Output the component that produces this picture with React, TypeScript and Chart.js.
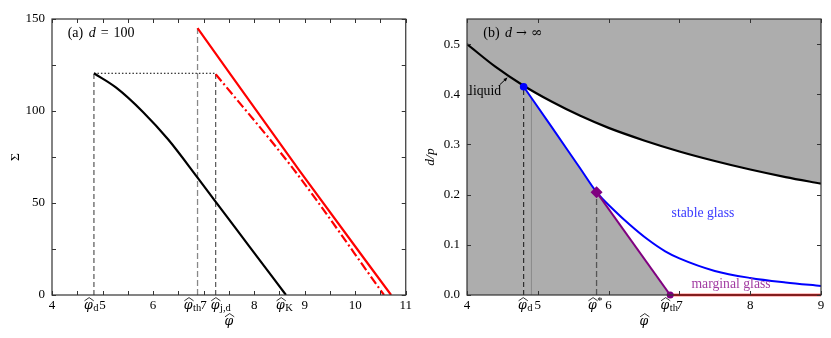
import React, { useEffect, useRef } from 'react';
import { Chart, registerables } from 'chart.js';

Chart.register(...registerables);

const FONT = '"Liberation Serif", "Times New Roman", serif';
const PHI_FONT = '"DejaVu Serif", serif';

// ---------- Panel (a): d = 100 ----------
const aBlackPhi = [4.83, 5.27, 5.8, 6.3, 6.88, 7.24, 7.9, 8.63];
const aBlackSigma = [120.5, 112.7, 99.5, 84.5, 63.8, 50.6, 26.6, 0];
const aRedPhi = [6.88, 8.9, 10.71];
const aRedSigma = [145, 67.5, 0];
const aRedDashPhi = [7.24, 8.79, 10.57];
const aRedDashSigma = [120, 68, 0];
const aPhiD = 4.83;
const aPhiTh = 6.88;
const aPhiJd = 7.24;
const aPhiK = 8.63;
const aSigmaD = 120.5;
const aSigmaTh = 145;
const aXTicks = [4, 5, 6, 7, 8, 9, 10, 11];
const aXMarks = [4, 4.5, 5, 5.5, 6, 6.5, 7, 7.5, 8, 8.5, 9, 9.5, 10, 10.5, 11];
const aYTicks = [0, 50, 100, 150];
const aYMarks = [0, 25, 50, 75, 100, 125, 150];

// ---------- Panel (b): d -> infinity ----------
const bBlackPhi = [4, 4.4, 4.8, 5.2, 5.6, 6, 6.5, 7, 7.5, 8, 8.5, 9];
const bBlackDp = [0.5, 0.455, 0.417, 0.385, 0.357, 0.333, 0.308, 0.286, 0.267, 0.25, 0.235, 0.222];
const bBluePhi = [4.8, 5.2, 5.6, 5.83, 6.07, 6.3, 6.55, 6.8, 7.0, 7.5, 8.0, 8.5, 9.0];
const bBlueDp = [0.415, 0.334, 0.252, 0.205, 0.17, 0.14, 0.111, 0.087, 0.073, 0.048, 0.034, 0.025, 0.018];
const bPhiD = 4.8;
const bDpD = 0.415;
const bPhiThin = 4.91;
const bDpThin = 0.393;
const bPhiStar = 5.83;
const bDpStar = 0.205;
const bPhiTh = 6.87;
const bXMax = 9;
const bXTicks = [4, 5, 6, 7, 8, 9];
const bXMarks = [4, 5, 6, 7, 8, 9];
const bYTicks = [0, 0.1, 0.2, 0.3, 0.4, 0.5];
const bYMarks = [0, 0.1, 0.2, 0.3, 0.4, 0.5];

const GRAY = '#adadad';

const pts = (xs: number[], ys: number[]) => xs.map((x, i) => ({ x, y: ys[i] }));

function drawPhiHat(ctx: CanvasRenderingContext2D, cx: number, baseline: number, sub?: string, sup?: string, size = 12.5) {
  const phiFont = `italic ${size}px ${PHI_FONT}`;
  const subFont = `10.5px ${FONT}`;
  ctx.save();
  ctx.font = phiFont;
  const w = ctx.measureText('φ').width;
  ctx.font = subFont;
  const extra = sub || sup || '';
  const sw = extra ? ctx.measureText(extra).width + 0.5 : 0;
  const x0 = cx - (w + sw) / 2;
  ctx.fillStyle = '#000';
  ctx.strokeStyle = '#000';
  ctx.textAlign = 'left';
  ctx.textBaseline = 'alphabetic';
  ctx.font = phiFont;
  ctx.fillText('φ', x0, baseline);
  const hb = baseline - size * 0.52 - 1.2;
  ctx.lineWidth = 0.8;
  ctx.beginPath();
  ctx.moveTo(x0 + 0.5, hb);
  ctx.lineTo(x0 + w / 2 + 0.8, hb - 3.2);
  ctx.lineTo(x0 + w + 1, hb);
  ctx.stroke();
  ctx.font = subFont;
  if (sub) ctx.fillText(sub, x0 + w + 0.5, baseline + 2);
  if (sup) ctx.fillText(sup, x0 + w + 0.5, baseline - 5);
  ctx.restore();
}

type Seg = { t: string; italic?: boolean; gap?: number; family?: string; size?: number };
function drawRich(ctx: CanvasRenderingContext2D, segs: Seg[], x: number, y: number, color: string, size = 13.7) {
  ctx.save();
  ctx.fillStyle = color;
  ctx.textAlign = 'left';
  ctx.textBaseline = 'alphabetic';
  let cx = x;
  for (const s of segs) {
    cx += s.gap || 0;
    ctx.font = `${s.italic ? 'italic ' : ''}${s.size || size}px ${s.family || FONT}`;
    ctx.fillText(s.t, cx, y);
    cx += ctx.measureText(s.t).width;
  }
  ctx.restore();
}

type Special = { v: number; sub?: string; sup?: string; dx: number };
type Note = { segs: Seg[]; x: number; y: number; color: string; size?: number };

function makeDecor(cfg: {
  bg?: string;
  xMarks: number[];
  yMarks: number[];
  specials: Special[];
  yTitle: { text: string; italic: boolean; x: number };
  notes: Note[];
  arrow?: { x1: number; y1: number; x2: number; y2: number };
}) {
  return {
    id: 'decor',
    beforeDatasetsDraw(chart: any) {
      if (!cfg.bg) return;
      const { ctx, chartArea: a } = chart;
      ctx.save();
      ctx.fillStyle = cfg.bg;
      ctx.fillRect(a.left, a.top, a.right - a.left, a.bottom - a.top);
      ctx.restore();
    },
    afterDraw(chart: any) {
      const { ctx, chartArea: a } = chart;
      const xs = chart.scales.x;
      const ys = chart.scales.y;
      ctx.save();
      ctx.strokeStyle = '#333';
      ctx.lineWidth = 1.2;
      ctx.strokeRect(a.left, a.top, a.right - a.left, a.bottom - a.top);
      ctx.lineWidth = 1;
      ctx.beginPath();
      const L = 4;
      for (const v of cfg.xMarks) {
        const p = Math.round(xs.getPixelForValue(v)) + 0.5;
        ctx.moveTo(p, a.bottom);
        ctx.lineTo(p, a.bottom - L);
        ctx.moveTo(p, a.top);
        ctx.lineTo(p, a.top + L);
      }
      for (const v of cfg.yMarks) {
        const p = Math.round(ys.getPixelForValue(v)) + 0.5;
        ctx.moveTo(a.left, p);
        ctx.lineTo(a.left + L, p);
        ctx.moveTo(a.right, p);
        ctx.lineTo(a.right - L, p);
      }
      ctx.stroke();
      ctx.restore();
      for (const s of cfg.specials) {
        drawPhiHat(ctx, xs.getPixelForValue(s.v) + s.dx, a.bottom + 13.5, s.sub, s.sup);
      }
      drawPhiHat(ctx, (a.left + a.right) / 2, a.bottom + 29.5, undefined, undefined, 12.5);
      ctx.save();
      ctx.translate(cfg.yTitle.x, (a.top + a.bottom) / 2);
      ctx.rotate(-Math.PI / 2);
      ctx.font = `${cfg.yTitle.italic ? 'italic ' : ''}13.5px ${FONT}`;
      ctx.fillStyle = '#000';
      ctx.textAlign = 'center';
      ctx.textBaseline = 'middle';
      ctx.fillText(cfg.yTitle.text, 0, 0);
      ctx.restore();
      for (const n of cfg.notes) {
        drawRich(ctx, n.segs, xs.getPixelForValue(n.x), ys.getPixelForValue(n.y), n.color, n.size);
      }
      if (cfg.arrow) {
        const x1 = xs.getPixelForValue(cfg.arrow.x1);
        const y1 = ys.getPixelForValue(cfg.arrow.y1);
        const x2 = xs.getPixelForValue(cfg.arrow.x2);
        const y2 = ys.getPixelForValue(cfg.arrow.y2);
        const ang = Math.atan2(y2 - y1, x2 - x1);
        ctx.save();
        ctx.strokeStyle = '#000';
        ctx.fillStyle = '#000';
        ctx.lineWidth = 1;
        ctx.beginPath();
        ctx.moveTo(x1, y1);
        ctx.lineTo(x2, y2);
        ctx.stroke();
        ctx.beginPath();
        ctx.moveTo(x2, y2);
        ctx.lineTo(x2 - 4 * Math.cos(ang - 0.45), y2 - 4 * Math.sin(ang - 0.45));
        ctx.lineTo(x2 - 4 * Math.cos(ang + 0.45), y2 - 4 * Math.sin(ang + 0.45));
        ctx.closePath();
        ctx.fill();
        ctx.restore();
      }
    },
  };
}

function baseOptions(o: {
  xMin: number; xMax: number; yMin: number; yMax: number;
  xTicks: number[]; yTicks: number[]; yFmt: (v: number) => string; padRight: number;
}) {
  return {
    animation: false,
    responsive: false,
    maintainAspectRatio: false,
    events: [],
    layout: { padding: { top: 19, right: o.padRight, left: 0, bottom: 0 } },
    elements: { point: { radius: 0, hoverRadius: 0 } },
    plugins: { legend: { display: false }, tooltip: { enabled: false }, filler: { propagate: false } },
    scales: {
      x: {
        type: 'linear',
        min: o.xMin,
        max: o.xMax,
        grid: { display: false, drawTicks: false },
        border: { display: false },
        ticks: {
          autoSkip: false,
          maxRotation: 0,
          padding: 3,
          color: '#000',
          font: { family: FONT, size: 13 },
          callback: (v: number) => String(v),
        },
        afterBuildTicks: (s: any) => { s.ticks = o.xTicks.map((v) => ({ value: v })); },
        afterFit: (s: any) => { s.height = 43; },
      },
      y: {
        type: 'linear',
        min: o.yMin,
        max: o.yMax,
        grid: { display: false, drawTicks: false },
        border: { display: false },
        ticks: {
          autoSkip: false,
          padding: 7,
          color: '#000',
          font: { family: FONT, size: 13 },
          callback: (v: number) => o.yFmt(v),
        },
        afterBuildTicks: (s: any) => { s.ticks = o.yTicks.map((v) => ({ value: v })); },
        afterFit: (s: any) => { s.width = 52; },
      },
    },
  };
}

function line(data: any[], color: string, width: number, extra: any = {}) {
  return { data, borderColor: color, backgroundColor: color, borderWidth: width, pointRadius: 0, fill: false, tension: 0, order: 2, ...extra };
}

const SMOOTH = { cubicInterpolationMode: 'monotone', tension: 0.4 };

export default function App() {
  const leftRef = useRef<HTMLCanvasElement>(null);
  const rightRef = useRef<HTMLCanvasElement>(null);

  useEffect(() => {
    document.body.style.margin = '0';
    const left = new Chart(leftRef.current as HTMLCanvasElement, {
      type: 'line',
      data: {
        datasets: [
          line([{ x: aPhiD, y: 0 }, { x: aPhiD, y: aSigmaD }], '#333', 1, { borderDash: [5, 3], order: 3 }),
          line([{ x: aPhiTh, y: 0 }, { x: aPhiTh, y: aSigmaTh }], '#888', 1.3, { borderDash: [6, 3], order: 3 }),
          line([{ x: aPhiJd, y: 0 }, { x: aPhiJd, y: aSigmaD }], '#333', 1, { borderDash: [5, 3], order: 3 }),
          line([{ x: aPhiD, y: aSigmaD }, { x: aPhiJd, y: aSigmaD }], '#000', 1, { borderDash: [1.5, 2], order: 3 }),
          line(pts(aBlackPhi, aBlackSigma), '#000', 2.2, { ...SMOOTH, order: 1 }),
          line(pts(aRedPhi, aRedSigma), '#ff0000', 2.2, { ...SMOOTH, order: 1 }),
          line(pts(aRedDashPhi, aRedDashSigma), '#ff0000', 2.2, { ...SMOOTH, borderDash: [9, 3, 2, 3], order: 1 }),
        ],
      },
      options: baseOptions({
        xMin: 4, xMax: 11, yMin: 0, yMax: 150, xTicks: aXTicks, yTicks: aYTicks,
        yFmt: (v) => String(v), padRight: 8,
      }) as any,
      plugins: [
        makeDecor({
          xMarks: aXMarks,
          yMarks: aYMarks,
          specials: [
            { v: aPhiD, sub: 'd', dx: -2.7 },
            { v: aPhiTh, sub: 'th', dx: -5 },
            { v: aPhiJd, sub: 'j,d', dx: 5 },
            { v: aPhiK, sub: 'K', dx: -1.5 },
          ],
          yTitle: { text: 'Σ', italic: false, x: 15.5 },
          notes: [
            { segs: [{ t: '(a)' }, { t: 'd', italic: true, gap: 5.5 }, { t: '=', gap: 5 }, { t: '100', gap: 5 }], x: 4.31, y: 140, color: '#000', size: 14 },
          ],
        }) as any,
      ],
    });

    const whiteRegion = pts(bBlackPhi, bBlackDp).filter((p) => p.x >= bPhiD);
    const grayRegion = [...pts(bBluePhi, bBlueDp).filter((p) => p.x <= bPhiStar), { x: bPhiTh, y: 0 }];

    const right = new Chart(rightRef.current as HTMLCanvasElement, {
      type: 'line',
      data: {
        datasets: [
          { data: whiteRegion, borderWidth: 0, borderColor: 'rgba(0,0,0,0)', backgroundColor: '#ffffff', fill: 'origin', pointRadius: 0, ...SMOOTH, order: 20 },
          { data: grayRegion, borderWidth: 0, borderColor: 'rgba(0,0,0,0)', backgroundColor: GRAY, fill: 'origin', pointRadius: 0, tension: 0, order: 19 },
          line([{ x: bPhiD, y: 0 }, { x: bPhiD, y: bDpD }], '#222', 1.1, { borderDash: [5, 3], order: 3 }),
          line([{ x: bPhiThin, y: 0 }, { x: bPhiThin, y: bDpThin }], '#8a8a8a', 1, { order: 3 }),
          line([{ x: bPhiStar, y: 0 }, { x: bPhiStar, y: bDpStar }], '#555', 1.3, { borderDash: [6, 3], order: 3 }),
          line(pts(bBlackPhi, bBlackDp), '#000', 2.2, { ...SMOOTH, order: 2 }),
          line(pts(bBluePhi, bBlueDp), '#0000ff', 2, { ...SMOOTH, order: 2 }),
          line([{ x: bPhiStar, y: bDpStar }, { x: bPhiTh, y: 0 }], '#800080', 2, { order: 1 }),
          line([{ x: bPhiTh, y: 0 }, { x: bXMax, y: 0 }], '#ff0000', 2.6, { order: 1, clip: false }),
          { data: [{ x: bPhiD, y: bDpD }], showLine: false, pointRadius: 3.8, pointStyle: 'circle', backgroundColor: '#0000ff', borderColor: '#0000ff', borderWidth: 0, order: 0, clip: false },
          { data: [{ x: bPhiStar, y: bDpStar }], showLine: false, pointRadius: 6, pointStyle: 'rectRot', backgroundColor: '#800080', borderColor: '#800080', borderWidth: 0, order: 0, clip: false },
          { data: [{ x: bPhiTh, y: 0 }], showLine: false, pointRadius: 3.5, pointStyle: 'circle', backgroundColor: '#800080', borderColor: '#800080', borderWidth: 0, order: 0, clip: false },
        ],
      },
      options: baseOptions({
        xMin: 4, xMax: 9, yMin: 0, yMax: 0.55, xTicks: bXTicks, yTicks: bYTicks,
        yFmt: (v) => v.toFixed(1), padRight: 10,
      }) as any,
      plugins: [
        makeDecor({
          bg: GRAY,
          xMarks: bXMarks,
          yMarks: bYMarks,
          specials: [
            { v: bPhiD, sub: 'd', dx: 1.7 },
            { v: bPhiStar, sup: '*', dx: -1.4 },
            { v: bPhiTh, sub: 'th', dx: -1 },
          ],
          yTitle: { text: 'd/p', italic: true, x: 15 },
          notes: [
            {
              segs: [
                { t: '(b)' },
                { t: 'd', italic: true, gap: 5.5 },
                { t: '→', gap: 4, family: PHI_FONT, size: 13 },
                { t: '∞', gap: 4, family: PHI_FONT, size: 14 },
              ],
              x: 4.23, y: 0.5137, color: '#000', size: 14,
            },
            { segs: [{ t: 'liquid' }], x: 4.03, y: 0.398, color: '#000' },
            { segs: [{ t: 'stable glass' }], x: 6.89, y: 0.1556, color: '#3a3aff' },
            { segs: [{ t: 'marginal glass' }], x: 7.17, y: 0.013, color: '#a23ca2' },
          ],
          arrow: { x1: 4.463, y1: 0.419, x2: 4.568, y2: 0.433 },
        }) as any,
      ],
    });

    return () => {
      left.destroy();
      right.destroy();
    };
  }, []);

  return (
    <div style={{ position: 'fixed', left: 0, top: 0, width: 831, height: 338, background: '#fff' }}>
      <canvas ref={leftRef} width={415} height={338} style={{ position: 'absolute', left: 0, top: 0, width: 415, height: 338 }} />
      <canvas ref={rightRef} width={416} height={338} style={{ position: 'absolute', left: 415, top: 0, width: 416, height: 338 }} />
    </div>
  );
}
